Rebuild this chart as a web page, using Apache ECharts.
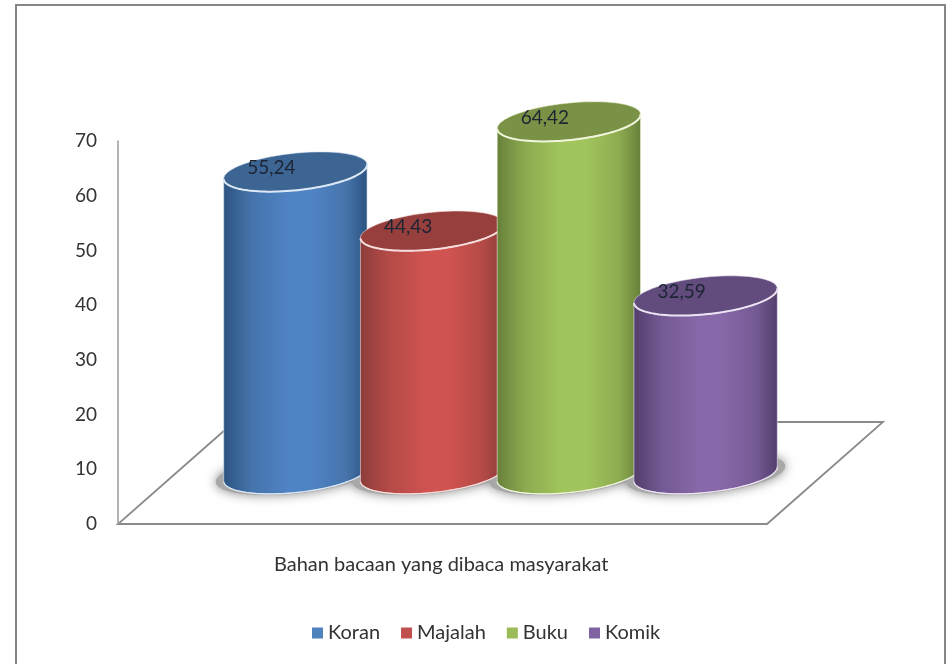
<!DOCTYPE html>
<html><head><meta charset="utf-8">
<style>html,body{margin:0;padding:0;background:#fff}#c{width:949px;height:664px}</style>
<script src="https://cdn.jsdelivr.net/npm/echarts@6/dist/echarts.min.js"></script>
</head><body><div id="c"></div>
<script>
var categories = ['Koran', 'Majalah', 'Buku', 'Komik'];
var values = [55.24, 44.43, 64.42, 32.59];
var yTicks = {min: 0, max: 70, interval: 10};
var axisTitle = 'Bahan bacaan yang dibaca masyarakat';
var sideEdge = ['#2c5482', '#8c3d3a', '#67803a', '#523e6c'];
var sideNear = ['#4674ab', '#b44a47', '#8dab50', '#745a94'];
var sideMid = ['#4f83c4', '#cf5350', '#a1c45c', '#8768a8'];
var topFill = ['#3d6594', '#963f3d', '#7a9246', '#614c7d'];
var rim = ['#dce8f5', '#f6dede', '#f0f5dc', '#ece4f2'];
var legendColor = ['#4f81bd', '#c0504d', '#9bbb59', '#8064a2'];

var FONT = 'Lato, "Open Sans", sans-serif';
var TILT = -6 * Math.PI / 180, FLOOR_LIFT = 50, MINOR = 18.5;

function ellipsePts(cx, cy, a, b, from, to, n) {
  var pts = [], c = Math.cos(TILT), s = Math.sin(TILT);
  for (var k = 0; k <= n; k++) {
    var t = from + (to - from) * k / n, x = a * Math.cos(t), y = b * Math.sin(t);
    pts.push([cx + x * c - y * s, cy + x * s + y * c]);
  }
  return pts;
}
function renderCylinder(params, api) {
  var i = api.value(0), v = api.value(1);
  var base = api.coord([i, 0]), top = api.coord([i, v]);
  var a = api.size([1, 0])[0] * 0.527;
  var cx = base[0], by = base[1] - FLOOR_LIFT, ty = top[1] - FLOOR_LIFT;
  var bottomArc = ellipsePts(cx, by, a, MINOR, Math.PI, 0, 60);   // left -> right along the front of the base
  var topArc = ellipsePts(cx, ty, a, MINOR, 0, Math.PI, 60);      // right -> left along the front of the top
  var body = bottomArc.concat(topArc);
  var topPts = ellipsePts(cx, ty, a, MINOR, 0, 2 * Math.PI, 90);
  var label = String(v).replace('.', ',');
  return {
    type: 'group',
    children: [
      {type: 'polygon', z2: 1,
        shape: {points: ellipsePts(cx, by, a + 8, MINOR + 1, 0, 2 * Math.PI, 90)},
        style: {fill: '#a8a8a8', shadowBlur: 11, shadowColor: 'rgba(120,120,120,0.9)'}},
      {type: 'polygon', z2: 10 + i * 3,
        shape: {points: body},
        style: {
          fill: {type: 'linear', x: 0, y: 0, x2: 1, y2: 0, colorStops: [
            {offset: 0, color: sideEdge[i]},
            {offset: 0.2, color: sideNear[i]},
            {offset: 0.45, color: sideMid[i]},
            {offset: 0.62, color: sideMid[i]},
            {offset: 0.85, color: sideNear[i]},
            {offset: 1, color: sideEdge[i]}
          ]},
          stroke: rim[i], lineWidth: 0.6
        }},
      {type: 'polyline', z2: 11 + i * 3,
        shape: {points: bottomArc},
        style: {fill: null, stroke: rim[i], lineWidth: 1.2}},
      {type: 'polygon', z2: 11 + i * 3,
        shape: {points: topPts},
        style: {fill: topFill[i], stroke: rim[i], lineWidth: 0.6}},
      {type: 'polyline', z2: 12 + i * 3,
        shape: {points: topArc},
        style: {fill: null, stroke: rim[i], lineWidth: 2}},
      {type: 'text', z2: 40,
        style: {text: label, x: cx - 24, y: ty - 4, align: 'center', verticalAlign: 'middle',
                 fill: '#1c2433', font: '19px ' + FONT}}
    ]
  };
}

var chart = echarts.init(document.getElementById('c'), null, {renderer: 'canvas'});
chart.setOption({
  animation: false,
  backgroundColor: '#fff',
  title: {text: axisTitle, left: 274, top: 555, padding: 0,
    textStyle: {fontFamily: FONT, fontSize: 20, fontWeight: 'normal', color: '#333'}},
  legend: {
    data: categories, left: 312, top: 623, padding: 0, icon: 'rect', itemWidth: 11, itemHeight: 11, itemGap: 21,
    textStyle: {fontFamily: FONT, fontSize: 20, color: '#333'}
  },
  grid: {left: 227, top: 141, width: 547, height: 383},
  xAxis: {type: 'category', data: categories, axisLine: {show: false}, axisTick: {show: false},
    axisLabel: {show: false}, splitLine: {show: false}},
  yAxis: {type: 'value', min: yTicks.min, max: yTicks.max, interval: yTicks.interval, offset: 109,
    axisLine: {show: true, lineStyle: {color: '#9a9a9a', width: 1.5}}, axisTick: {show: false},
    splitLine: {show: false},
    axisLabel: {margin: 21, fontFamily: FONT, fontSize: 19, color: '#333', padding: [5, 0, 0, 0]}},
  graphic: [
    {type: 'rect', z: -1, shape: {x: 16, y: 5, width: 929, height: 690},
      style: {fill: '#fff', stroke: '#868686', lineWidth: 2}},
    {type: 'polygon', z: 0, shape: {points: [[118, 524], [767, 524], [883, 422], [234, 422]]},
      style: {fill: '#fff', stroke: '#8a8a8a', lineWidth: 1.8}}
  ],
  series: categories.map(function (name, i) {
    return {
      type: 'custom', name: name, z: 5,
      coordinateSystem: 'cartesian2d',
      clip: false,
      itemStyle: {color: legendColor[i]},
      encode: {x: 0, y: 1},
      data: [[i, values[i]]],
      renderItem: renderCylinder
    };
  })
});
</script></body></html>
